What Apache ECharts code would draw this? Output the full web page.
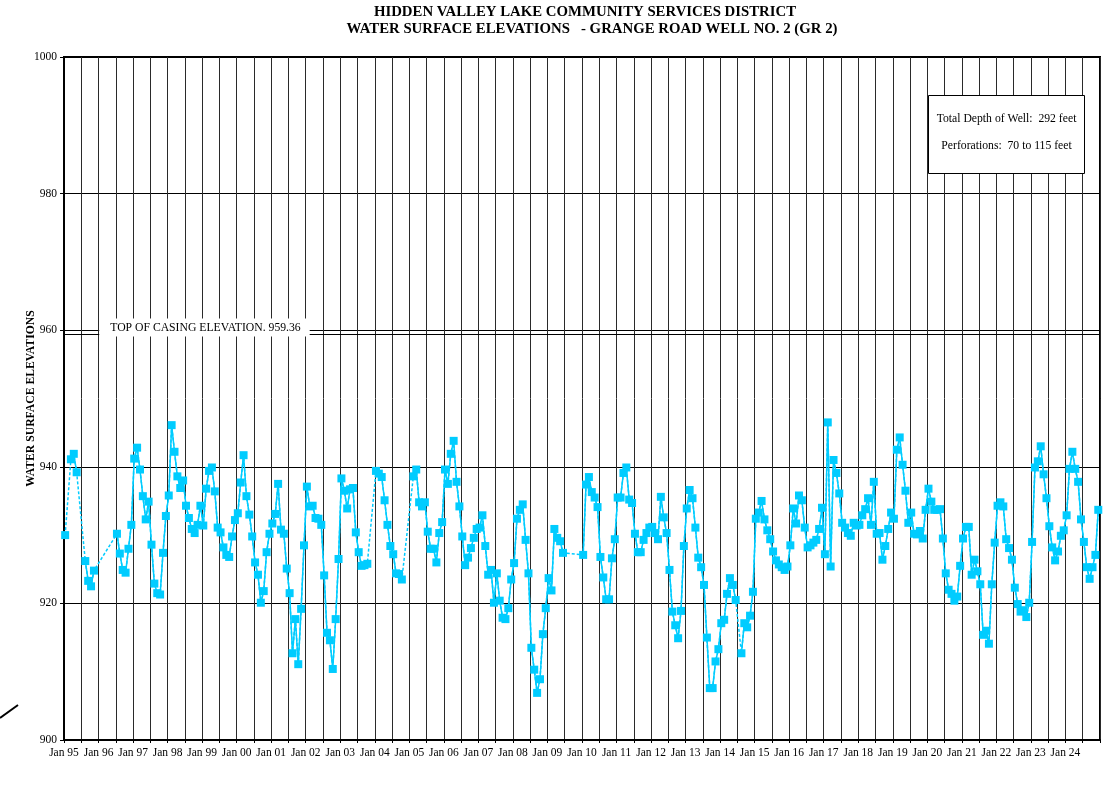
<!DOCTYPE html>
<html>
<head>
<meta charset="utf-8">
<title>Grange Road Well No. 2 – Water Surface Elevations</title>
<script src="https://cdn.jsdelivr.net/npm/echarts@6/dist/echarts.min.js"></script>
<style>
  html, body { margin: 0; padding: 0; background: #fff; }
  #chart { width: 1110px; height: 788px; }
</style>
</head>
<body>
<div id="chart"></div>
<script>
// Monthly water surface elevations (feet), Jan..Dec; null = no reading that month
const y1995 = [930.0, null, 941.1, 941.9, 939.2, null, null, 926.2, 923.3, 922.5, 924.8, null];
const y1996 = [null, null, null, null, null, null, 930.2, 927.3, 924.9, 924.5, 928.0, 931.5];
const y1997 = [941.2, 942.8, 939.6, 935.7, 932.3, 934.9, 928.6, 922.9, 921.5, 921.3, 927.4, 932.8];
const y1998 = [935.8, 946.1, 942.2, 938.6, 936.9, 938.0, 934.3, 932.5, 930.9, 930.3, 931.5, 934.3];
const y1999 = [931.4, 936.8, 939.4, 939.9, 936.4, 931.1, 930.4, 928.2, 927.1, 926.8, 929.8, 932.2];
const y2000 = [933.2, 937.7, 941.7, 935.7, 933.0, 929.8, 926.0, 924.2, 920.1, 921.8, 927.5, 930.2];
const y2001 = [931.7, 933.1, 937.5, 930.8, 930.2, 925.1, 921.5, 912.7, 917.7, 911.1, 919.2, 928.5];
const y2002 = [937.1, 934.2, 934.3, 932.5, 932.4, 931.5, 924.1, 915.7, 914.6, 910.4, 917.7, 926.5];
const y2003 = [938.3, 936.5, 933.9, 936.7, 936.9, 930.4, 927.5, 925.5, 925.6, 925.8, null, null];
const y2004 = [939.4, 939.0, 938.5, 935.1, 931.5, 928.4, 927.2, 924.4, 924.3, 923.5, null, null];
const y2005 = [null, 938.6, 939.6, 934.8, 934.2, 934.8, 930.5, 928.0, 928.0, 926.0, 930.3, 931.9];
const y2006 = [939.6, 937.5, 941.9, 943.8, 937.8, 934.2, 929.8, 925.6, 926.7, 928.1, 929.6, 930.9];
const y2007 = [931.1, 932.9, 928.4, 924.2, 924.9, 920.1, 924.4, 920.4, 917.9, 917.7, 919.3, 923.5];
const y2008 = [925.9, 932.4, 933.7, 934.5, 929.3, 924.4, 913.5, 910.3, 906.9, 908.9, 915.5, 919.3];
const y2009 = [923.7, 921.9, 930.9, 929.6, 929.1, 927.4, null, null, null, null, null, null];
const y2010 = [927.1, 937.4, 938.5, 936.3, 935.5, 934.1, 926.8, 923.8, 920.6, 920.6, 926.6, 929.4];
const y2011 = [935.5, 935.5, 939.1, 939.9, 935.2, 934.7, 930.2, 927.5, 927.5, 929.3, 930.3, 931.1];
const y2012 = [931.2, 930.3, 929.4, 935.6, 932.6, 930.3, 924.9, 918.8, 916.8, 914.9, 918.9, 928.4];
const y2013 = [933.9, 936.6, 935.4, 931.1, 926.7, 925.3, 922.7, 915.0, 907.6, 907.6, 911.5, 913.3];
const y2014 = [917.1, 917.6, 921.4, 923.7, 922.7, 920.5, null, 912.7, 917.1, 916.5, 918.2, 921.7];
const y2015 = [932.4, 933.3, 935.0, 932.3, 930.7, 929.4, 927.6, 926.3, 925.7, 925.3, 924.9, 925.4];
const y2016 = [928.5, 933.9, 931.7, 935.8, 935.1, 931.1, 928.2, 928.5, 928.9, 929.3, 930.9, 934.0];
const y2017 = [927.2, 946.5, 925.4, 941.0, 939.1, 936.1, 931.8, 931.1, 930.3, 929.9, 931.8, 931.4];
const y2018 = [931.5, 932.9, 933.8, 935.4, 931.5, 937.8, 930.2, 930.3, 926.4, 928.4, 930.9, 933.3];
const y2019 = [932.4, 942.5, 944.3, 940.3, 936.5, 931.8, 933.3, 930.2, 930.1, 930.6, 929.5, 933.7];
const y2020 = [936.8, 934.9, 933.7, 933.7, 933.8, 929.5, 924.4, 922.0, 921.4, 920.4, 921.0, 925.5];
const y2021 = [929.5, 931.2, 931.2, 924.2, 926.4, 924.7, 922.8, 915.4, 916.0, 914.1, 922.8, 928.9];
const y2022 = [934.3, 934.8, 934.2, 929.4, 928.1, 926.4, 922.3, 919.9, 918.8, 919.0, 918.0, 920.1];
const y2023 = [929.0, 939.9, 940.8, 943.0, 938.9, 935.4, 931.3, 928.2, 926.3, 927.6, 929.9, 930.7];
const y2024 = [932.9, 939.7, 942.2, 939.7, 937.8, 932.3, 929.0, 925.3, 923.6, 925.3, 927.1, 933.7];

const firstYear = 1995;
const yearlyLevels = [
  y1995, y1996, y1997, y1998, y1999, y2000, y2001, y2002, y2003, y2004,
  y2005, y2006, y2007, y2008, y2009, y2010, y2011, y2012, y2013, y2014,
  y2015, y2016, y2017, y2018, y2019, y2020, y2021, y2022, y2023, y2024
];

const casingElevation = 959.36;
const casingLabel = 'TOP OF CASING ELEVATION. 959.36';
const titleLines = [
  'HIDDEN VALLEY LAKE COMMUNITY SERVICES DISTRICT',
  'WATER SURFACE ELEVATIONS   - GRANGE ROAD WELL NO. 2 (GR 2)'
];
const wellNotes = ['Total Depth of Well:  292 feet', 'Perforations:  70 to 115 feet'];
const yAxisTitle = 'WATER SURFACE ELEVATIONS';

const SERIF = '"Liberation Serif", "DejaVu Serif", serif';
const CYAN = '#00CCFF';

// readings sit a little into each month on a decimal-year axis
const points = [];
yearlyLevels.forEach((vals, i) => {
  vals.forEach((v, m) => {
    points.push([firstYear + i + (m + 0.4) / 12, v === null ? '-' : v]);
  });
});

const chart = echarts.init(document.getElementById('chart'), null, { renderer: 'canvas' });

chart.setOption({
  backgroundColor: '#fff',
  animation: false,
  grid: {
    left: 64, right: 10, top: 57, bottom: 48,
    show: true, borderColor: '#000', borderWidth: 2, backgroundColor: 'transparent'
  },
  xAxis: {
    type: 'value',
    min: 1995, max: 2025, interval: 0.5,
    axisLine: { show: true, onZero: false, lineStyle: { color: '#000', width: 2 } },
    axisTick: { show: true, length: 3, lineStyle: { color: '#000', width: 1 } },
    axisLabel: {
      color: '#000', fontFamily: SERIF, fontSize: 11.5, margin: 7,
      showMinLabel: true, showMaxLabel: true,
      formatter: v => (Number.isInteger(v) && v < 2025) ? 'Jan ' + String(v % 100).padStart(2, '0') : ''
    },
    splitLine: { show: true, lineStyle: { color: '#2a2a2a', width: 1 } }
  },
  yAxis: {
    type: 'value',
    min: 900, max: 1000, interval: 20,
    name: yAxisTitle,
    nameLocation: 'middle',
    nameRotate: 90,
    nameGap: 27,
    nameMoveOverlap: false,
    nameTextStyle: { color: '#000', fontFamily: SERIF, fontSize: 11.7, fontWeight: 'bold' },
    axisLine: { show: true, lineStyle: { color: '#000', width: 2 } },
    axisTick: { show: true, length: 4, lineStyle: { color: '#000', width: 1 } },
    axisLabel: {
      color: '#000', fontFamily: SERIF, fontSize: 11.5, margin: 7,
      formatter: v => String(v)
    },
    splitLine: { show: true, lineStyle: { color: '#000', width: 1 } }
  },
  series: [
    {
      // dashed links across months with no reading
      name: 'gaps',
      type: 'line',
      data: points,
      connectNulls: true,
      showSymbol: false,
      symbol: 'none',
      silent: true,
      z: 2,
      lineStyle: { color: CYAN, width: 1.5, type: [3, 2] }
    },
    {
      name: 'Water surface elevation',
      type: 'line',
      data: points,
      connectNulls: false,
      symbol: 'rect',
      symbolSize: 8,
      z: 3,
      itemStyle: { color: CYAN },
      lineStyle: { color: CYAN, width: 1.5 },
      markLine: {
        silent: true,
        symbol: 'none',
        label: { show: false },
        lineStyle: { color: '#000', width: 1, type: 'solid' },
        data: [{ yAxis: casingElevation }]
      }
    }
  ]
});

// overlay text: title, casing label, well details box
const yCasing = chart.convertToPixel({ yAxisIndex: 0 }, casingElevation);
const xCasingLabel = chart.convertToPixel({ xAxisIndex: 0 }, 1996.02);
const titleFont = 'bold 14.8px ' + SERIF;

chart.setOption({
  graphic: [
    {
      type: 'text', z: 100,
      x: 585, y: 12,
      style: { text: titleLines[0], font: titleFont, fill: '#000', textAlign: 'center', textVerticalAlign: 'middle' }
    },
    {
      type: 'text', z: 100,
      x: 592, y: 29.5,
      style: { text: titleLines[1], font: titleFont, fill: '#000', textAlign: 'center', textVerticalAlign: 'middle' }
    },
    {
      type: 'text', z: 100,
      x: xCasingLabel, y: yCasing - 7,
      style: {
        text: casingLabel, font: '11.7px ' + SERIF, fill: '#000',
        textAlign: 'left', textVerticalAlign: 'middle',
        backgroundColor: '#fff', padding: [3, 9, 3, 11]
      }
    },
    {
      type: 'rect', z: 100,
      shape: { x: 928.5, y: 95.5, width: 156, height: 78 },
      style: { fill: '#fff', stroke: '#000', lineWidth: 1 }
    },
    {
      type: 'text', z: 101,
      x: 1006.5, y: 119,
      style: { text: wellNotes[0], font: '11.7px ' + SERIF, fill: '#000', textAlign: 'center', textVerticalAlign: 'middle' }
    },
    {
      type: 'text', z: 101,
      x: 1006.5, y: 146,
      style: { text: wellNotes[1], font: '11.7px ' + SERIF, fill: '#000', textAlign: 'center', textVerticalAlign: 'middle' }
    },
    {
      type: 'line', z: 100,
      shape: { x1: 0, y1: 718, x2: 18, y2: 705 },
      style: { stroke: '#000', lineWidth: 2 }
    }
  ]
});
</script>
</body>
</html>
